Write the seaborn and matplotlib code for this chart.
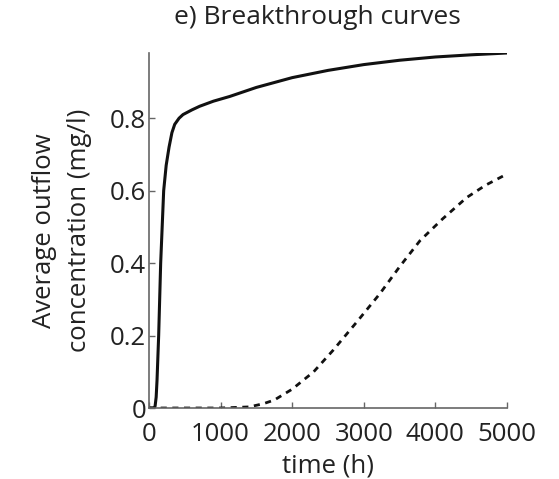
import matplotlib
matplotlib.use("Agg")
import matplotlib.pyplot as plt
import seaborn as sns
import pandas as pd

# Breakthrough curve of the mobile solute (solid)
t_fast = [0, 70, 85, 100, 112, 135, 163, 205, 240, 280, 320, 359, 420, 475,
          600, 708, 900, 1127, 1500, 2000, 2500, 3000, 3500, 4000, 4500, 5000]
c_fast = [0, 0, 0.005, 0.03, 0.076, 0.2, 0.4, 0.6, 0.67, 0.72, 0.76, 0.783,
          0.80, 0.81, 0.823, 0.833, 0.847, 0.86, 0.885, 0.912, 0.932, 0.948,
          0.96, 0.969, 0.975, 0.98]

# Breakthrough curve of the retarded solute (dashed)
t_slow = [0, 100, 1000, 1400, 1600, 1750, 2000, 2300, 2574, 2900, 3226, 3500,
          3785, 4100, 4437, 4700, 5000]
c_slow = [0, 0, 0, 0.003, 0.012, 0.022, 0.052, 0.1, 0.16, 0.237, 0.316, 0.39,
          0.462, 0.522, 0.581, 0.615, 0.646]

x_ticks = [0, 1000, 2000, 3000, 4000, 5000]
y_ticks = [0, 0.2, 0.4, 0.6, 0.8]
y_tick_labels = ["0", "0.2", "0.4", "0.6", "0.8"]

sns.set_style("ticks")
plt.rcParams["font.family"] = ["Open Sans", "DejaVu Sans"]

fast = pd.DataFrame({"t": t_fast, "c": c_fast})
slow = pd.DataFrame({"t": t_slow, "c": c_slow})

fig = plt.figure(figsize=(5.59, 4.79), dpi=100)
ax = fig.add_axes([149 / 559, 71 / 479, 358 / 559, 355 / 479])

sns.lineplot(data=fast, x="t", y="c", ax=ax, color="#111111", lw=2.2,
             estimator=None, sort=False)
sns.lineplot(data=slow, x="t", y="c", ax=ax, color="#111111", lw=2.0,
             estimator=None, sort=False, linestyle=(0, (2.2, 2.0)))

ax.set_xlim(0, 5000)
ax.set_ylim(0, 0.98)
ax.set_xticks(x_ticks)
ax.set_yticks(y_ticks)
ax.set_yticklabels(y_tick_labels)
ax.tick_params(direction="in", length=4, width=1, labelsize=18.5,
               color="#666666", labelcolor="#222222")
ax.tick_params(axis="x", pad=10)
ax.tick_params(axis="y", pad=2)
for side in ("top", "right"):
    ax.spines[side].set_visible(False)
for side in ("left", "bottom"):
    ax.spines[side].set_color("#666666")
    ax.spines[side].set_linewidth(1.2)

ax.set_xlabel("time (h)", fontsize=18.5, color="#222222", labelpad=5)
ax.set_ylabel("Average outflow\nconcentration (mg/l)", fontsize=18.5,
              color="#222222", labelpad=13, linespacing=1.5)
fig.text(317 / 559, 1 - 17 / 479, "e) Breakthrough curves", fontsize=19,
         color="#222222", ha="center", va="center")

fig.savefig("out.png", dpi=100)
